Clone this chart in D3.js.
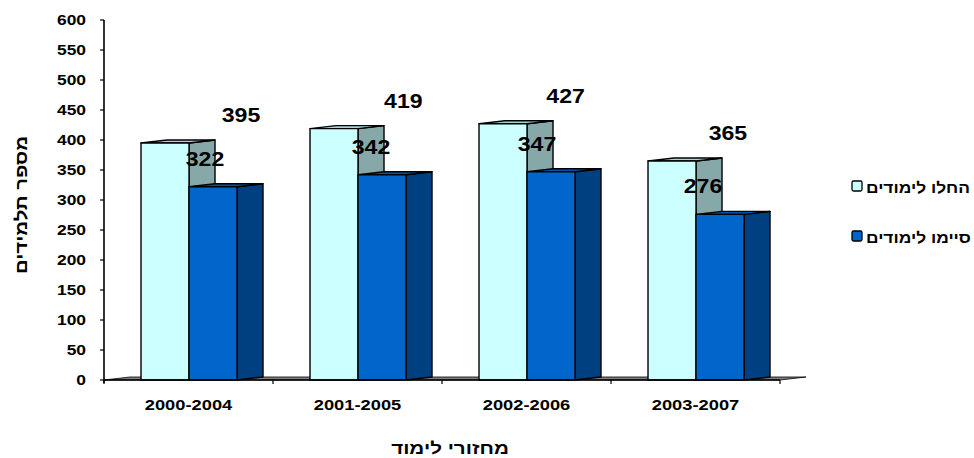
<!DOCTYPE html>
<html>
<head>
<meta charset="utf-8">
<script src="https://cdn.jsdelivr.net/npm/d3@7"></script>
<style>
  html, body { margin: 0; padding: 0; background: #fff; }
  svg { display: block; font-family: "Liberation Sans", Arial, sans-serif; font-weight: bold; }
</style>
</head>
<body>
<svg id="chart" width="974" height="458"></svg>
<script>
// Student cohorts: how many began and how many completed their studies
const categories = ["2000-2004", "2001-2005", "2002-2006", "2003-2007"];
const seriesNames = ["החלו לימודים", "סיימו לימודים"];
const started = [395, 419, 427, 365];
const finished = [322, 342, 347, 276];
const yTicks = [0, 50, 100, 150, 200, 250, 300, 350, 400, 450, 500, 550, 600];
const yTitle = "מספר תלמידים";
const xTitle = "מחזורי לימוד";

const series = [
  { name: seriesNames[0], values: started,  front: "#CCFFFF", side: "#86A8A8", topFace: "#A9D4D4" },
  { name: seriesNames[1], values: finished, front: "#0066CC", side: "#003F80", topFace: "#0055AA" }
];

const svg = d3.select("#chart");
const plotLeft = 104, plotRight = 780, plotTop = 20, plotBottom = 380;
const depthX = 26, depthY = -3;

const y = d3.scaleLinear().domain([0, 600]).range([plotBottom, plotTop]);
const x = d3.scaleBand().domain(categories).range([plotLeft, plotRight]).paddingInner(0).paddingOuter(0);
const bw = x.bandwidth();
const xs = d3.scaleBand().domain(seriesNames).range([bw * 0.219, bw * 0.219 + 96]).padding(0);

const pts = arr => arr.map(p => p.join(",")).join(" ");

// horizontally widened text, as the chart's lettering is
function wideText(g, str, tx, ty, sx, anchor, size) {
  return g.append("text")
    .attr("transform", `translate(${tx},${ty}) scale(${sx},1)`)
    .attr("text-anchor", anchor)
    .attr("font-size", size)
    .attr("fill", "#000")
    .text(str);
}

// floor
svg.append("polygon")
  .attr("points", pts([[plotLeft, plotBottom], [plotRight, plotBottom], [plotRight + depthX, plotBottom + depthY], [plotLeft + depthX, plotBottom + depthY]]))
  .attr("fill", "#808080").attr("stroke", "#000").attr("stroke-width", 0.8);

// bars
const bars = svg.append("g");
categories.forEach((c, i) => {
  series.forEach(s => {
    const v = s.values[i];
    const x0 = x(c) + xs(s.name), x1 = x0 + xs.bandwidth();
    const yt = y(v), yb = y(0);
    const g = bars.append("g").attr("stroke", "#000").attr("stroke-width", 1.4).attr("stroke-linejoin", "round");
    g.append("polygon")
      .attr("points", pts([[x1, yt], [x1 + depthX, yt + depthY], [x1 + depthX, yb + depthY], [x1, yb]]))
      .attr("fill", s.side);
    g.append("polygon")
      .attr("points", pts([[x0, yt], [x0 + depthX, yt + depthY], [x1 + depthX, yt + depthY], [x1, yt]]))
      .attr("fill", s.topFace);
    g.append("rect")
      .attr("x", x0).attr("y", yt).attr("width", x1 - x0).attr("height", yb - yt)
      .attr("fill", s.front);
  });
});

// axes
const axes = svg.append("g").attr("stroke", "#000");
axes.append("line").attr("x1", plotLeft).attr("x2", plotLeft).attr("y1", plotTop).attr("y2", plotBottom + 3).attr("stroke-width", 1.6);
axes.append("line").attr("x1", plotLeft).attr("x2", plotRight).attr("y1", plotBottom).attr("y2", plotBottom).attr("stroke-width", 1.6);
yTicks.forEach(t => {
  axes.append("line").attr("x1", plotLeft - 4).attr("x2", plotLeft).attr("y1", y(t)).attr("y2", y(t)).attr("stroke-width", 1.2);
});
[...categories.map(c => x(c)), plotRight].forEach(px => {
  axes.append("line").attr("x1", px).attr("x2", px).attr("y1", plotBottom).attr("y2", plotBottom + 4).attr("stroke-width", 1.2);
});

const labels = svg.append("g");
yTicks.forEach(t => wideText(labels, String(t), 86, y(t) + 5, 1.2, "end", 14.5));
categories.forEach(c => wideText(labels, c, x(c) + bw / 2, 410, 1.22, "middle", 15));

// value labels
categories.forEach((c, i) => {
  series.forEach((s, k) => {
    const v = s.values[i];
    const cx = x(c) + xs(s.name) + xs.bandwidth() / 2;
    const off = k === 0 ? 76 - 6.7 * i : -8 - 3 * i;
    wideText(labels, String(v), cx + off, y(v) - 21, 1.1, "middle", 21);
  });
});

// axis titles
labels.append("text")
  .attr("transform", `translate(27,205) rotate(-90) scale(1.2,1)`)
  .attr("text-anchor", "middle").attr("font-size", 17)
  .text(yTitle);
wideText(labels, xTitle, 450, 454, 1.25, "middle", 16.5);

// legend
series.forEach((s, k) => {
  const ly = 181 + k * 50;
  svg.append("rect").attr("x", 852).attr("y", ly).attr("width", 10).attr("height", 10)
    .attr("rx", 1.5).attr("fill", s.front).attr("stroke", "#000").attr("stroke-width", 1.3);
  wideText(svg, s.name, 866, ly + 12, 1.12, "start", 15.5);
});
</script>
</body>
</html>
